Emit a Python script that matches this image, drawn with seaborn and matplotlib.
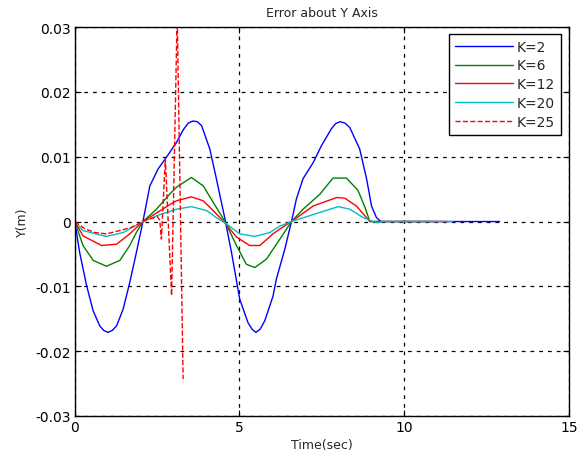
import matplotlib
matplotlib.use('Agg')
import matplotlib.pyplot as plt
import seaborn as sns
import pandas as pd

# values
t_k2 = [0, .15, .36, .56, .76, .88, 1.01, 1.14, 1.27, 1.47, 1.67, 1.87,
        2.07, 2.28, 2.53, 2.78, 3.09, 3.3, 3.45, 3.59, 3.72, 3.85, 4.1, 4.3,
        4.56, 4.76, 5.01, 5.26, 5.38, 5.5, 5.63, 5.77, 6.02, 6.12, 6.38,
        6.58, 6.73, 6.93, 7.24, 7.49, 7.79, 7.92, 8.05, 8.2, 8.35, 8.65,
        8.86, 9.01, 9.16, 9.3, 12.9]
y_k2 = [0, -.0048, -.0099, -.0138, -.0161, -.0168, -.0171, -.0168, -.0161,
        -.0135, -.0094, -.0048, 0, .0055, .0081, .0099, .0122, .0142, .0152,
        .0155, .0154, .0148, .0112, .0066, .0004, -.0048, -.012, -.0156,
        -.0166, -.0171, -.0166, -.0153, -.0115, -.0089, -.0042, 0, .0035,
        .0066, .0091, .0117, .0143, .0151, .0154, .0152, .0145, .0112, .0066,
        .0024, .0006, 0, 0]

t_k6 = [0, .25, .56, .96, 1.37, 1.67, 1.87, 2.07, 2.48, 2.88, 3.09, 3.54,
        3.9, 4.2, 4.56, 4.91, 5.21, 5.47, 5.82, 6.23, 6.58, 6.93, 7.44,
        7.84, 8.25, 8.6, 8.81, 8.96, 11.0]
y_k6 = [0, -.0037, -.006, -.0069, -.006, -.0037, -.0017, 0, .0019, .0042,
        .0053, .0068, .0055, .003, 0, -.0037, -.0066, -.0071, -.0058,
        -.0027, 0, .0019, .0042, .0067, .0067, .0048, .0022, 0, 0]

t_k12 = [0, .25, .81, 1.27, 1.67, 2.07, 2.48, 2.88, 3.09, 3.54, 3.9, 4.2,
         4.56, 4.91, 5.31, 5.62, 6.02, 6.3, 6.58, 7.24, 7.95, 8.2, 8.55,
         8.96, 11.33]
y_k12 = [0, -.0022, -.0037, -.0035, -.0019, 0, .0013, .0026, .0032, .0038,
         .0032, .0017, -.0002, -.0024, -.0037, -.0037, -.0019, -.0009, 0,
         .0024, .0037, .0036, .0024, 0, 0]

t_k20 = [0, .25, .96, 1.47, 2.07, 2.6, 3.09, 3.54, 4.0, 4.3, 4.56, 5.01,
         5.47, 5.92, 6.23, 6.58, 7.44, 8.0, 8.35, 8.76, 9.06, 9.2, 9.35,
         11.48]
y_k20 = [0, -.0014, -.0023, -.0017, 0, .0011, .0019, .0023, .0017, .0006,
         -.0002, -.0019, -.0023, -.0017, -.0007, 0, .0014, .0023, .0019,
         .0006, 0, -.0002, 0, 0]

t_k25 = [0, .3, .61, .96, 1.21, 1.72, 2.07, 2.2, 2.37, 2.5, 2.58, 2.63,
         2.75, 2.94, 3.11, 3.29]
y_k25 = [0, -.0011, -.0017, -.0019, -.0016, -.0009, 0, .0003, .0005, .0008,
         .0002, -.0027, .0097, -.0114, .032, -.0243]

series = [("K=2", t_k2, y_k2, "#0000ff", "-"),
          ("K=6", t_k6, y_k6, "#008000", "-"),
          ("K=12", t_k12, y_k12, "#ff0000", "-"),
          ("K=20", t_k20, y_k20, "#00bfbf", "-"),
          ("K=25", t_k25, y_k25, "#ff0000", "--")]

x_ticks = [0, 5, 10, 15]
y_ticks = [-0.03, -0.02, -0.01, 0, 0.01, 0.02, 0.03]
y_tick_labels = ["-0.03", "-0.02", "-0.01", "0", "0.01", "0.02", "0.03"]

sns.set_theme(style="white")
plt.rcParams['font.family'] = ['DejaVu Sans']
plt.rcParams['axes.unicode_minus'] = False

fig = plt.figure(figsize=(5.84, 4.6), dpi=100)
ax = fig.add_axes([0.128, 0.0935, 0.846, 0.8455])

for name, t, y, color, ls in series:
    df = pd.DataFrame({"t": t, "y": y})
    sns.lineplot(data=df, x="t", y="y", ax=ax, color=color, linestyle=ls,
                 linewidth=1.0, label=name, sort=False, estimator=None)

ax.set_xlim(0, 15)
ax.set_ylim(-0.03, 0.03)
ax.set_xticks(x_ticks)
ax.set_xticklabels([str(v) for v in x_ticks])
ax.set_yticks(y_ticks)
ax.set_yticklabels(y_tick_labels)
ax.grid(True, color='black', linestyle=(0, (3, 4)), linewidth=0.9)
for spine in ax.spines.values():
    spine.set_edgecolor('black')
    spine.set_linewidth(1.0)
ax.tick_params(direction='in', length=4, width=0.8, colors='black',
               labelsize=10, top=True, right=True, bottom=True, left=True,
               pad=3)

ax.set_title('Error about Y Axis', fontsize=9, pad=8)
ax.set_xlabel('Time(sec)', fontsize=9, labelpad=3)
ax.set_ylabel('Y(m)', fontsize=9, labelpad=4)

leg = ax.legend(loc='upper right', bbox_to_anchor=(0.984, 0.982),
                fontsize=10, frameon=True, fancybox=False, handlelength=4.2,
                labelspacing=0.35, borderpad=0.4, handletextpad=0.3,
                borderaxespad=0)
leg.get_frame().set_edgecolor('black')
leg.get_frame().set_linewidth(1.0)
leg.get_frame().set_alpha(1)

fig.savefig('out.png', dpi=100, facecolor='white')
